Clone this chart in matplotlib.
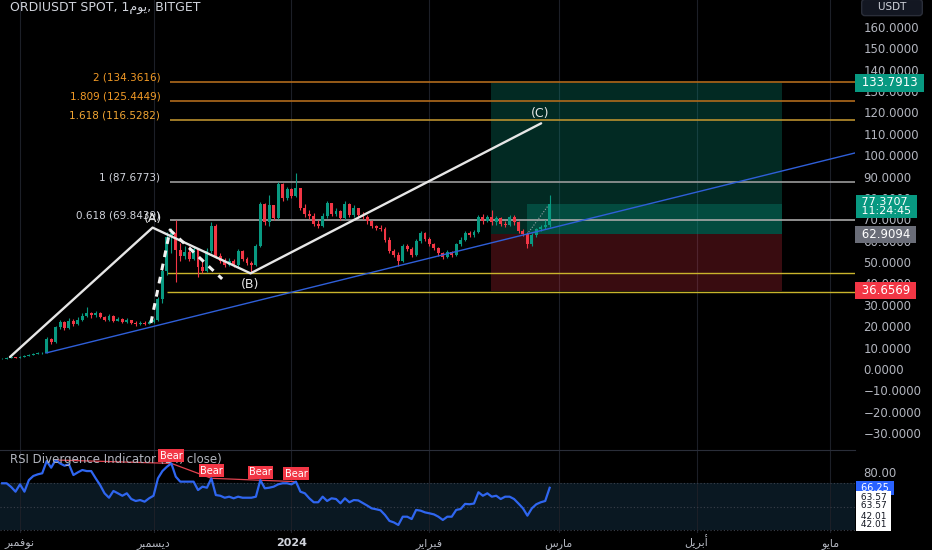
import numpy as np
import pandas as pd
import matplotlib
matplotlib.use('Agg')
import matplotlib.pyplot as plt
import matplotlib.dates as mdates

# ---- data (ORDI/USDT daily, BITGET) ----
start_day = '2023-10-28'
first_open = 4.6
closes = [4.8, 5.0, 5.4, 5.2, 5.6, 6.0, 6.4, 6.9, 7.3, 7.6,
          14.0, 12.4, 19.4, 21.8, 19.0, 22.6, 20.8, 23.0, 24.8, 26.2,
          25.0, 26.3, 24.2, 23.0, 24.8, 22.6, 23.4, 22.0, 22.8, 21.5,
          21.0, 21.7, 21.2, 22.0, 23.0, 32.5, 46.0, 61.5, 63.5, 55.6,
          53.0, 54.5, 51.5, 56.0, 47.5, 46.0, 55.0, 67.0, 53.0, 50.5,
          48.8, 50.5, 48.5, 55.0, 51.5, 49.5, 48.5, 57.5, 77.0, 68.5,
          76.5, 70.5, 86.5, 80.0, 84.0, 81.0, 84.5, 75.5, 72.5, 71.5,
          68.0, 67.0, 71.5, 77.5, 72.5, 74.0, 70.5, 77.0, 72.0, 75.2,
          72.0, 71.0, 69.0, 66.8, 66.0, 65.5, 60.5, 55.0, 53.5, 50.5,
          57.5, 56.0, 53.5, 60.0, 63.5, 61.0, 58.5, 56.5, 54.0, 52.5,
          54.5, 53.5, 58.5, 60.5, 63.5, 62.5, 64.0, 71.0, 69.0, 71.0,
          68.5, 70.5, 68.0, 67.5, 71.0, 68.5, 64.5, 63.0, 58.5, 62.5,
          65.5, 66.5, 67.5, 77.37]
highs = [5.2, 5.4, 5.8, 5.6, 6.0, 6.4, 6.9, 7.3, 7.7, 8.0,
         15.0, 14.6, 20.2, 23.0, 22.5, 23.8, 23.4, 24.2, 26.0, 28.8,
         26.8, 27.2, 26.6, 24.6, 25.6, 25.2, 24.4, 23.8, 23.6, 23.0,
         22.2, 22.4, 22.6, 22.8, 23.8, 33.5, 47.0, 64.0, 66.0, 69.8,
         59.0, 57.5, 57.5, 57.0, 56.5, 52.0, 56.5, 68.5, 68.0, 54.0,
         52.0, 52.0, 51.5, 56.0, 55.5, 52.5, 50.5, 58.5, 78.0, 77.5,
         81.4, 76.5, 87.6, 87.0, 85.0, 84.5, 91.5, 84.5, 77.0, 74.5,
         73.0, 69.5, 73.0, 78.5, 77.5, 75.5, 74.5, 78.5, 77.5, 76.5,
         75.5, 73.5, 72.0, 69.5, 67.5, 67.5, 66.5, 61.5, 56.0, 54.5,
         58.5, 58.5, 57.0, 61.0, 64.5, 64.0, 61.5, 59.0, 57.0, 54.5,
         55.5, 55.0, 59.0, 61.5, 64.5, 64.5, 65.0, 72.0, 72.5, 72.0,
         74.5, 71.5, 71.0, 69.0, 72.0, 72.0, 69.0, 65.5, 64.0, 63.5,
         66.0, 67.5, 69.5, 81.4]
lows = [4.6, 4.7, 4.9, 5.0, 5.1, 5.5, 5.9, 6.3, 6.8, 7.1,
        7.3, 11.8, 12.2, 18.5, 18.2, 18.8, 20.0, 20.5, 22.6, 24.2,
        24.0, 24.3, 23.6, 22.4, 22.6, 22.0, 22.2, 21.4, 21.6, 21.0,
        20.2, 20.6, 20.7, 20.8, 21.6, 22.5, 31.0, 44.0, 54.0, 40.6,
        50.5, 51.5, 50.5, 50.8, 43.2, 45.0, 45.5, 54.0, 52.0, 49.5,
        47.5, 48.0, 47.8, 47.8, 50.5, 48.5, 44.8, 48.0, 57.0, 67.5,
        67.0, 69.5, 70.0, 78.5, 79.0, 80.0, 80.5, 74.5, 71.0, 70.0,
        67.0, 66.0, 66.5, 70.5, 71.5, 71.5, 69.5, 70.0, 71.0, 71.0,
        71.0, 70.0, 68.0, 66.0, 65.0, 64.5, 59.5, 54.0, 52.5, 48.0,
        50.0, 55.0, 52.5, 53.0, 59.0, 60.0, 57.5, 55.5, 53.0, 51.5,
        52.0, 52.5, 53.0, 57.5, 60.0, 61.5, 61.5, 63.5, 68.0, 68.5,
        67.5, 67.5, 67.0, 66.5, 67.0, 67.5, 63.5, 62.0, 56.4, 57.5,
        61.5, 64.5, 65.5, 66.5]
rsi = [70.1, 70.1, 67.0, 62.9, 69.2, 62.9, 72.9, 76.4, 77.8, 78.7,
       89.2, 83.5, 90.1, 87.2, 85.2, 86.4, 77.2, 79.5, 81.5, 80.6,
       80.6, 74.4, 68.6, 61.5, 57.7, 63.5, 61.5, 59.4, 61.5, 56.6,
       54.9, 55.7, 54.3, 57.2, 59.4, 74.4, 80.6, 84.3, 87.2, 75.8,
       71.5, 71.5, 71.5, 71.5, 64.3, 67.2, 66.3, 74.4, 60.0, 59.4,
       57.7, 58.6, 57.2, 58.6, 57.7, 57.7, 57.7, 58.6, 72.9, 65.8,
       66.3, 67.2, 69.2, 70.1, 70.1, 69.2, 71.5, 62.9, 61.5, 57.2,
       53.8, 53.8, 58.6, 54.9, 57.2, 56.6, 52.9, 57.2, 53.8, 55.7,
       55.4, 53.2, 51.0, 48.6, 47.8, 46.9, 42.9, 37.8, 36.5, 34.3,
       41.4, 41.4, 39.4, 47.2, 46.6, 45.1, 44.3, 43.4, 41.4, 38.6,
       41.4, 41.4, 47.2, 48.0, 52.4, 52.1, 52.7, 62.4, 59.4, 61.5,
       58.6, 59.4, 56.6, 58.6, 58.6, 56.6, 52.7, 48.6, 42.3, 48.6,
       52.1, 53.8, 54.9, 66.25]

fib_levels = [2, 1.809, 1.618, 1, 0.618]
fib_prices = [134.3616, 125.4449, 116.5282, 87.6773, 69.8439]
fib_line_colors = ['#b06a1c', '#b06a1c', '#b98f2e', '#9a9a9a', '#a8a8a8']
fib_text_colors = ['#f29a26', '#f29a26', '#f2a633', '#d1d4dc', '#d1d4dc']
fib_start = '2023-12-04 17:00'
box_lines = [44.8, 36.0]
box_lines_start = '2023-12-04'

trend_pts = [('2023-11-06 20:00', 7.44), ('2024-05-07 12:00', 101.5)]
wave_pts = [('2023-10-29 18:00', 5.57), ('2023-11-30 19:00', 66.1),
            ('2023-12-22 19:00', 44.7), ('2024-02-26 02:00', 114.9)]
wave_dash = [('2023-11-30 10:00', 21.5), ('2023-12-04 17:00', 65.0),
             ('2023-12-16 10:00', 42.1)]
wave_names = ['(A)', '(B)', '(C)']
wave_label_pts = [('2023-11-30 23:00', 70.2), ('2023-12-22 17:00', 39.6),
                  ('2024-02-25 21:00', 119.3)]

pos_start, pos_end = '2024-02-14 19:00', '2024-04-20 05:00'
target, entry, stop = 133.7913, 62.9094, 36.6569
last_price = 77.3707
pnl_start = '2024-02-22 22:00'
pnl_path = [('2024-02-22 22:00', 62.9094), ('2024-02-27 17:00', 76.5)]

bear_days = ['2023-11-09', '2023-12-05', '2023-12-14', '2024-01-02']
bear_labels = ['2023-12-05', '2023-12-14', '2023-12-25', '2024-01-02']

month_days = ['2023-11-01', '2023-12-01', '2024-01-01', '2024-02-01',
              '2024-03-01', '2024-04-01', '2024-05-01']
month_names = ['نوفمبر', 'ديسمبر', '2024', 'فبراير', 'مارس', 'أبريل', 'مايو']

# ---- little Arabic shaper (matplotlib has no text shaping) ----
AR_FORMS = {
    'ا': '\ufe8d\ufe8e', 'أ': '\ufe83\ufe84', 'د': '\ufea9\ufeaa',
    'ر': '\ufead\ufeae', 'و': '\ufeed\ufeee',
    'ب': '\ufe8f\ufe90\ufe91\ufe92', 'س': '\ufeb1\ufeb2\ufeb3\ufeb4',
    'ف': '\ufed1\ufed2\ufed3\ufed4', 'ل': '\ufedd\ufede\ufedf\ufee0',
    'م': '\ufee1\ufee2\ufee3\ufee4', 'ن': '\ufee5\ufee6\ufee7\ufee8',
    'ي': '\ufef1\ufef2\ufef3\ufef4',
}


def shape_ar(word):
    if not all(ch in AR_FORMS for ch in word):
        return word
    out = []
    for i, ch in enumerate(word):
        f = AR_FORMS[ch]
        pj = i > 0 and len(AR_FORMS[word[i - 1]]) == 4
        nj = i < len(word) - 1 and len(f) == 4
        if pj and nj:
            out.append(f[3])
        elif pj:
            out.append(f[1])
        elif nj:
            out.append(f[2])
        else:
            out.append(f[0])
    return ''.join(reversed(out))


def dn(s):
    return mdates.date2num(pd.Timestamp(s))


GREEN = '#089981'
RED = '#f23645'
TXT = '#b2b5be'
GRID = '#1c1f27'
plt.rcParams['font.family'] = ['DejaVu Sans']

fig = plt.figure(figsize=(9.32, 5.5), dpi=100, facecolor='black')
ax = fig.add_axes([0, 100 / 550, 855 / 932, 450 / 550], facecolor='black')
ax2 = fig.add_axes([0, 17 / 550, 855 / 932, 83 / 550], facecolor='black')

nov1 = dn('2023-11-01')
xl, xr = nov1 - 4.49, nov1 + 187.6
for a in (ax, ax2):
    a.set_xlim(xl, xr)
    for s in a.spines.values():
        s.set_visible(False)
    a.set_xticks([dn(m) for m in month_days])
    a.grid(axis='x', color=GRID, lw=0.8)
    a.set_axisbelow(True)
ax.set_ylim(-37.95, 172.6)
ax2.set_ylim(27.4, 98.7)
ax2.spines['top'].set_visible(True)
ax2.spines['top'].set_color('#2a2e39')

# ---- candles ----
dates = pd.date_range(start_day, periods=len(closes), freq='D')
x = mdates.date2num(dates)
c = np.array(closes)
o = np.array([first_open] + closes[:-1])
col = np.where(c >= o, GREEN, RED)
ax.vlines(x, lows, highs, colors=col, lw=0.8, zorder=3)
ax.bar(x, np.maximum(np.abs(c - o), 0.25), bottom=np.minimum(o, c), width=0.66,
       color=col, zorder=3)

# ---- long position tool ----
px0, px1 = dn(pos_start), dn(pos_end)
ax.fill_between([px0, px1], entry, target, color=GREEN, alpha=0.28, lw=0, zorder=1)
ax.fill_between([px0, px1], stop, entry, color=RED, alpha=0.24, lw=0, zorder=1)
ax.fill_between([dn(pnl_start), px1], entry, last_price, color=GREEN, alpha=0.3,
                lw=0, zorder=1)
ax.plot([dn(p[0]) for p in pnl_path], [p[1] for p in pnl_path], color='#9aa0a6',
        lw=0.8, ls=(0, (1, 1.5)), zorder=4)

# ---- fib levels ----
fx = dn(fib_start)
for lev, pr, lc, tc in zip(fib_levels, fib_prices, fib_line_colors, fib_text_colors):
    ax.hlines(pr, fx, xr, colors=lc, lw=1.2, zorder=2)
    ax.annotate(f'{lev} ({pr:.4f})', xy=(fx, pr), xytext=(-7, 3), textcoords='offset points',
                ha='right', va='center', color=tc, fontsize=7.5, zorder=5)
for pr in box_lines:
    ax.hlines(pr, dn(box_lines_start), xr, colors='#c9b42c', lw=1.0, zorder=2)

# ---- trend line and waves ----
ax.plot([dn(p[0]) for p in trend_pts], [p[1] for p in trend_pts], color='#2f5fd8',
        lw=1.0, zorder=4)
ax.plot([dn(p[0]) for p in wave_pts], [p[1] for p in wave_pts], color='#e6e6e6',
        lw=1.7, zorder=5, solid_capstyle='round')
ax.plot([dn(p[0]) for p in wave_dash], [p[1] for p in wave_dash], color='#f2f2f2',
        lw=2.2, ls=(0, (2.2, 2.2)), zorder=5)
for name, (d, pr) in zip(wave_names, wave_label_pts):
    ax.text(dn(d), pr, name, ha='center', va='center', color='#e6e6e6', fontsize=9,
            zorder=6)

# ---- price scale ----
ticks = np.arange(-30, 161, 10)
ax.yaxis.tick_right()
ax.set_yticks(ticks)
ax.set_yticklabels([f'{t:.4f}'.replace('-', '\u2212') for t in ticks])
ax.tick_params(axis='y', length=0, pad=6, labelcolor=TXT, labelsize=8.5)
ax.tick_params(axis='x', length=0, labelbottom=False)


def price_tag(a, y, text, fc, tc='white', size=8.5, ls=0.95):
    a.annotate(text, xy=(1, y), xycoords=('axes fraction', 'data'), xytext=(2, 0),
               textcoords='offset points', ha='left', va='center', color=tc,
               fontsize=size, linespacing=ls, zorder=10, annotation_clip=False,
               bbox=dict(boxstyle='square,pad=0.2', fc=fc, ec='none'))


price_tag(ax, target, ' 133.7913 ', GREEN)
price_tag(ax, last_price - 1.4, ' 77.3707 \n 11:24:45 ', GREEN, size=8, ls=0.85)
price_tag(ax, entry, ' 62.9094 ', '#6a6d78')
price_tag(ax, stop, ' 36.6569 ', RED)

fig.text(892 / 932, 1 - 7.5 / 550, '    USDT    ', ha='center', va='center', color='#d1d4dc',
         fontsize=7.5, bbox=dict(boxstyle='round,pad=0.3', fc='#131722', ec='#2a2e39'))
fig.text(10 / 932, 1 - 8 / 550, 'ORDIUSDT SPOT, 1' + shape_ar('يوم') + ', BITGET',
         ha='left', va='center', color='#d1d4dc', fontsize=9)

# ---- RSI pane ----
ax2.axhspan(30, 70, color='#0a1822', lw=0, zorder=0)
for lv in (70, 50, 30):
    ax2.axhline(lv, color='#3a3f4a', lw=0.8, ls=(0, (1, 2)), zorder=1)
ax2.plot(x, rsi, color='#2f66f0', lw=1.6, zorder=3)
rsi_s = pd.Series(rsi, index=dates)
bx = [dn(d) for d in bear_days]
by = [rsi_s[pd.Timestamp(d)] for d in bear_days]
ax2.plot(bx, by, color='#e0434f', lw=0.9, zorder=2)
ax2.text(10 / 855, 1 - 9 / 83, 'RSI Divergence Indicator (14, close)', transform=ax2.transAxes,
         ha='left', va='center', color=TXT, fontsize=8.5, zorder=4)
for d in bear_labels:
    ax2.annotate('Bear', xy=(dn(d), rsi_s[pd.Timestamp(d)]), xytext=(0, 2),
                 textcoords='offset points', ha='center', va='bottom', color='white',
                 fontsize=7, zorder=6,
                 bbox=dict(boxstyle='square,pad=0.15', fc=RED, ec='none'))

ax2.yaxis.tick_right()
ax2.set_yticks([80])
ax2.set_yticklabels(['80.00'])
ax2.tick_params(axis='y', length=0, pad=6, labelcolor=TXT, labelsize=8.5)
price_tag(ax2, rsi[-1], ' 66.25 ', '#2962ff', size=7)
price_tag(ax2, 54.6, ' 63.57 \n 63.57 ', 'white', tc='#131722', size=6.5, ls=0.9)
price_tag(ax2, 38.3, ' 42.01 \n 42.01 ', 'white', tc='#131722', size=6.5, ls=0.9)

ax2.set_xticklabels([shape_ar(m) for m in month_names])
ax2.tick_params(axis='x', length=0, pad=9.5, labelcolor=TXT, labelsize=8)
for lbl, m in zip(ax2.get_xticklabels(), month_names):
    lbl.set_verticalalignment('baseline')
    if m == '2024':
        lbl.set_fontweight('bold')
        lbl.set_color('#d1d4dc')

fig.savefig('out.png', dpi=100, facecolor='black')
